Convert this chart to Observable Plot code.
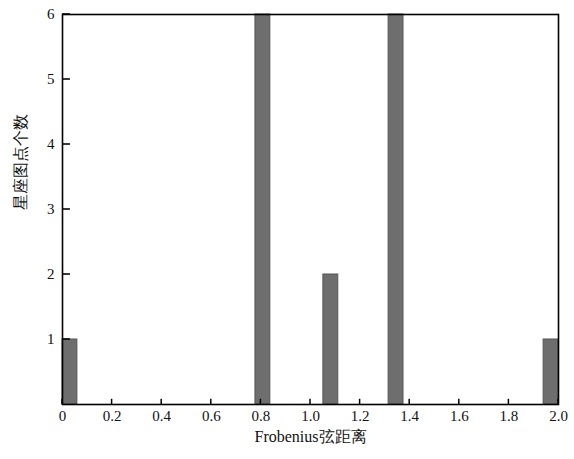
<!DOCTYPE html>
<html>
<head>
<meta charset="utf-8">
<script src="https://cdn.jsdelivr.net/npm/d3@7"></script>
<script src="https://cdn.jsdelivr.net/npm/@observablehq/plot@0.6"></script>
<style>
  html, body { margin: 0; padding: 0; background: #fff; }
</style>
</head>
<body>
<div id="chart"></div>
<script>
const binStart = [0.0, 0.778, 1.052, 1.315, 1.94];
const binEnd   = [0.06, 0.838, 1.112, 1.375, 2.0];
const counts   = [1, 6, 2, 6, 1];
const xTicks = [0, 0.2, 0.4, 0.6, 0.8, 1.0, 1.2, 1.4, 1.6, 1.8, 2.0];
const yTicks = [1, 2, 3, 4, 5, 6];
const xLabel = "Frobenius弦距离";
const yLabel = "星座图点个数";

const data = binStart.map((s, i) => ({x1: s, x2: binEnd[i], y: counts[i]}));
const serif = "Times New Roman";

const chart = Plot.plot({
  width: 574,
  height: 459,
  marginLeft: 62,
  marginRight: 16,
  marginTop: 14,
  marginBottom: 55,
  style: {fontSize: "14px", color: "#111", background: "#fff"},
  x: {domain: [0, 2]},
  y: {domain: [0, 6]},
  marks: [
    Plot.rectY(data, {x1: "x1", x2: "x2", y: "y", fill: "#6e6e6e", stroke: "#555", strokeWidth: 1}),
    Plot.rect(yTicks, {x1: 0, x2: 0.032, y1: d => d - 0.012, y2: d => d + 0.012, fill: "#000"}),
    Plot.rect(xTicks, {x1: d => d - 0.003, x2: d => d + 0.003, y1: 0, y2: 0.08, fill: "#000"}),
    Plot.axisX({ticks: xTicks, tickSize: 0, tickPadding: 6, tickFormat: d => d === 0 ? "0" : d.toFixed(1), label: null, fontSize: 15, fontFamily: serif}),
    Plot.axisY({ticks: yTicks, tickSize: 0, tickPadding: 8, tickFormat: d => String(d), label: null, fontSize: 15, fontFamily: serif}),
    Plot.text([xLabel], {frameAnchor: "bottom", dy: 37, text: d => d, fontSize: 16, fill: "#111", fontFamily: serif}),
    Plot.text([yLabel], {frameAnchor: "left", dx: -42, rotate: -90, text: d => d, fontSize: 16, fill: "#111", fontFamily: serif}),
    Plot.frame({stroke: "#000", strokeWidth: 1.6})
  ]
});
document.getElementById("chart").appendChild(chart);
</script>
</body>
</html>
